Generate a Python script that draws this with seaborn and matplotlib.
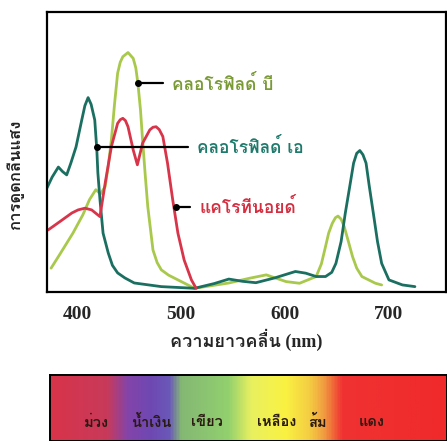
import numpy as np
import matplotlib
matplotlib.use("Agg")
import matplotlib.pyplot as plt
import seaborn as sns
from matplotlib import font_manager
from matplotlib.ft2font import FT2Font
from matplotlib.colors import LinearSegmentedColormap

# absorption curves (wavelength nm, relative absorbance 0-1)
chl_a_nm = [371, 376, 382, 386, 390, 394, 399, 404.5, 407.5, 410.6, 413.5, 417, 419, 420, 422,
            425, 430, 434, 439, 446, 455, 481, 513, 532, 546, 559, 572, 590, 610, 620, 630,
            639, 645, 649, 654, 658, 662, 666, 669, 672, 675, 678, 681, 685, 689, 693, 700,
            713, 725]
chl_a_abs = [0.371, 0.41, 0.446, 0.43, 0.418, 0.46, 0.518, 0.614, 0.665, 0.694, 0.67, 0.614,
             0.507, 0.425, 0.33, 0.21, 0.139, 0.095, 0.068, 0.05, 0.032, 0.019, 0.013, 0.03,
             0.046, 0.038, 0.033, 0.05, 0.073, 0.067, 0.055, 0.055, 0.07, 0.102, 0.18, 0.281,
             0.37, 0.46, 0.495, 0.505, 0.49, 0.46, 0.38, 0.281, 0.18, 0.102, 0.043, 0.025, 0.019]

chl_b_nm = [375, 383, 396, 405.5, 412, 418, 422.5, 427, 430, 433, 436, 439, 441.5, 444, 449,
            454, 456.5, 458.5, 461, 463, 465.5, 468, 473, 477, 481, 488, 497, 513, 546, 566,
            582, 601, 614, 630, 635, 639, 642, 645.5, 648.5, 651, 654, 657, 661, 665, 669,
            674, 687, 693]
chl_b_abs = [0.085, 0.132, 0.21, 0.275, 0.33, 0.365, 0.35, 0.376, 0.45, 0.543, 0.67, 0.781,
             0.82, 0.84, 0.855, 0.834, 0.8, 0.745, 0.65, 0.543, 0.42, 0.305, 0.15, 0.105,
             0.079, 0.06, 0.043, 0.013, 0.032, 0.049, 0.061, 0.037, 0.031, 0.055, 0.1, 0.162,
             0.21, 0.245, 0.265, 0.271, 0.26, 0.233, 0.18, 0.126, 0.085, 0.055, 0.031, 0.025]

carot_nm = [372, 383, 395, 401, 407.5, 414, 422, 427, 433, 439, 441.5, 444, 446.5, 449, 454,
            458, 463, 470, 473, 476, 479, 482.5, 487, 492, 497, 503, 510, 514.5]
carot_abs = [0.221, 0.25, 0.282, 0.293, 0.299, 0.293, 0.269, 0.388, 0.519, 0.602, 0.615, 0.62,
             0.612, 0.59, 0.507, 0.454, 0.531, 0.579, 0.588, 0.59, 0.58, 0.555, 0.46, 0.329,
             0.21, 0.114, 0.043, 0.013]

pigment_names = ["คลอโรฟิลด์ บี", "คลอโรฟิลด์ เอ", "แคโรทีนอยด์"]
# label anchor points: (dot nm, value, text nm)
label_dot_nm = [458.3, 419, 495.6]
label_dot_val = [0.746, 0.518, 0.304]
label_text_nm = [491, 515, 517.6]

tick_nm = [400, 500, 600, 700]

# visible spectrum strip
spectrum_nm = [374, 428, 448, 470, 488, 500, 545, 567, 600, 624, 638, 655, 755]
spectrum_col = ["#d8344a", "#c83a5a", "#8444aa", "#6e48b2", "#6a58b8", "#84b874", "#92d06e",
                "#e8f060", "#faf242", "#f4cc42", "#f09a40", "#f03232", "#f02a2a"]
colour_names = ["ม่วง", "น้ำเงิน", "เขียว", "เหลือง", "ส้ม", "แดง"]
colour_name_nm = [419, 471.6, 524.3, 591.4, 630.8, 682.5]


def find_thai_font():
    for f in font_manager.fontManager.ttflist:
        try:
            if ord("ก") in FT2Font(f.fname).get_charmap():
                return f.name
        except Exception:
            pass
    return "DejaVu Sans"


sns.set_style("white")
thai = find_thai_font()
plt.rcParams["font.family"] = [thai, "DejaVu Sans"]
serif = ["Liberation Serif", thai]

teal = "#1b6f61"
green = "#a9c94c"
red = "#d8344a"
text_cols = ["#7a9a36", "#1f7a6c", "#d42e40"]

xmin, xmax = 371, 755

fig = plt.figure(figsize=(4.47, 4.41), dpi=100)
ax = fig.add_axes([0.105, 0.338, 0.893, 0.635])

sns.lineplot(x=chl_b_nm, y=chl_b_abs, ax=ax, color=green, lw=2, sort=False, estimator=None)
sns.lineplot(x=chl_a_nm, y=chl_a_abs, ax=ax, color=teal, lw=2, sort=False, estimator=None)
sns.lineplot(x=carot_nm, y=carot_abs, ax=ax, color=red, lw=2, sort=False, estimator=None)

for name, dx, dy, tx, c in zip(pigment_names, label_dot_nm, label_dot_val, label_text_nm, text_cols):
    ax.plot([dx, tx - 8.5], [dy, dy], color="black", lw=1.6)
    ax.plot(dx, dy, "o", color="black", ms=4)
    ax.text(tx, dy, name, color=c, fontsize=12.5, fontweight="bold", va="center", ha="left")

ax.set_xlim(xmin, xmax)
ax.set_ylim(0, 1)
ax.set_xticks(tick_nm)
ax.set_xticklabels([str(t) for t in tick_nm], family=serif, fontweight="bold", fontsize=14)
ax.set_yticks([])
ax.tick_params(axis="x", length=0, pad=10)
for s in ax.spines.values():
    s.set_color("black")
    s.set_linewidth(1.6)
ax.set_xlabel("ความยาวคลื่น (nm)", family=serif, fontweight="bold", fontsize=13, labelpad=4)
ax.set_ylabel("การดูดกลืนแสง", fontweight="bold", fontsize=12, color="#222222")
ax.yaxis.set_label_coords(-0.058, 0.42)

# spectrum strip
ax2 = fig.add_axes([0.112, 0.0, 0.888, 0.15])
pos = [(v - spectrum_nm[0]) / (spectrum_nm[-1] - spectrum_nm[0]) for v in spectrum_nm]
cmap = LinearSegmentedColormap.from_list("spec", list(zip(pos, spectrum_col)))
ax2.imshow(np.linspace(0, 1, 400)[None, :], aspect="auto", cmap=cmap,
           extent=[spectrum_nm[0], spectrum_nm[-1], 0, 1])
for name, x in zip(colour_names, colour_name_nm):
    ax2.text(x, 0.28, name, ha="center", va="center", fontsize=10.5, fontweight="bold",
             color="#2a1a12")
ax2.set_xlim(spectrum_nm[0], spectrum_nm[-1])
ax2.set_ylim(0, 1)
ax2.set_xticks([])
ax2.set_yticks([])
for s in ax2.spines.values():
    s.set_color("black")
    s.set_linewidth(1.4)

fig.savefig("out.png", dpi=100)
